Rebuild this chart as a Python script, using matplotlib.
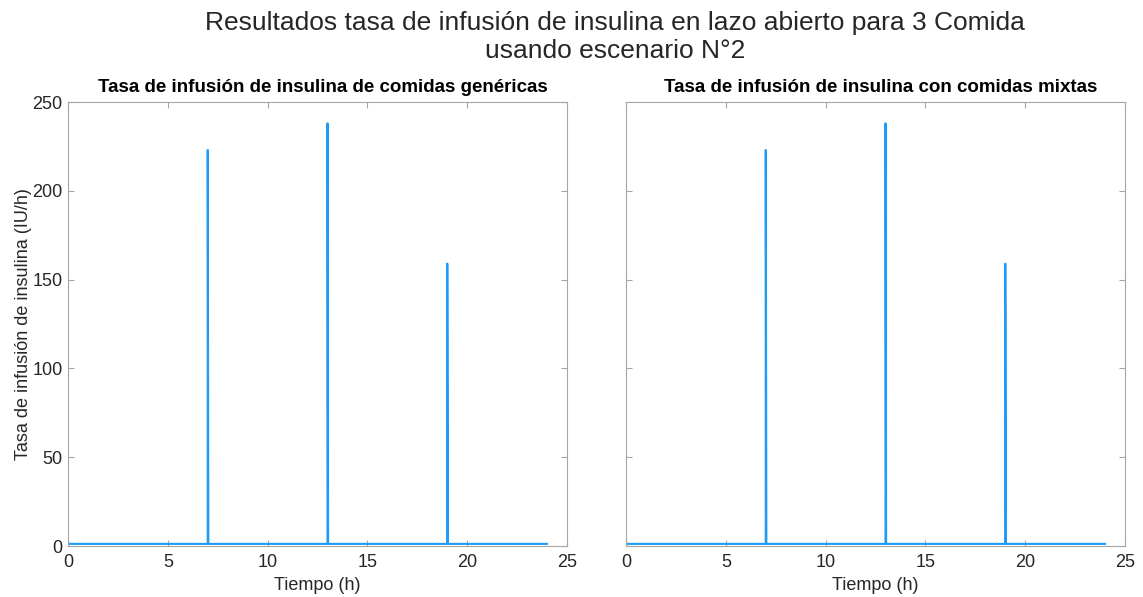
import matplotlib
matplotlib.use("Agg")
import matplotlib.pyplot as plt

plt.rcParams['font.family'] = ['Liberation Sans', 'DejaVu Sans']

# Insulin infusion rate (IU/h) over 24 h: basal rate with bolus spikes at meals
tiempo_h = [0, 7, 7, 7.03, 13, 13, 13.03, 19, 19, 19.03, 24]
tasa_genericas = [1.2, 1.2, 223, 1.2, 1.2, 238, 1.2, 1.2, 159, 1.2, 1.2]
tasa_mixtas = [1.2, 1.2, 223, 1.2, 1.2, 238, 1.2, 1.2, 159, 1.2, 1.2]

titulos = ["Tasa de infusión de insulina de comidas genéricas",
           "Tasa de infusión de insulina con comidas mixtas"]
xticks = [0, 5, 10, 15, 20, 25]
yticks = [0, 50, 100, 150, 200, 250]

color_linea = '#1e9bf8'
gris_eje = '#a6a6a6'
gris_texto = '#262626'

fig = plt.figure(figsize=(11.43, 5.97), dpi=100)
ax1 = fig.add_axes([0.0595, 0.0854, 0.4366, 0.7437])
ax2 = fig.add_axes([0.5477, 0.0854, 0.4366, 0.7437])

for ax, serie, titulo in zip([ax1, ax2], [tasa_genericas, tasa_mixtas], titulos):
    ax.plot(tiempo_h, serie, color=color_linea, linewidth=1.5)
    ax.set_xlim(0, 25)
    ax.set_ylim(0, 250)
    ax.set_xticks(xticks)
    ax.set_yticks(yticks)
    ax.set_title(titulo, fontsize=13.5, fontweight='bold', color='black', pad=7, x=0.51)
    ax.set_xlabel("Tiempo (h)", fontsize=13, color=gris_texto, labelpad=4)
    ax.tick_params(direction='in', top=True, right=True, length=4,
                   color=gris_eje, labelcolor=gris_texto, labelsize=13)
    ax.tick_params(axis='x', pad=6)
    ax.tick_params(axis='y', pad=4)
    for s in ax.spines.values():
        s.set_color(gris_eje)
        s.set_linewidth(0.8)

ax1.set_ylabel("Tasa de infusión de insulina (IU/h)", fontsize=13, color=gris_texto, labelpad=0)
ax2.tick_params(labelleft=False)

fig.suptitle("Resultados tasa de infusión de insulina en lazo abierto para 3 Comida\nusando escenario N°2",
             fontsize=19, color=gris_texto, x=0.538, y=0.982, linespacing=1.2)

fig.savefig("out.png", dpi=100, facecolor='white')
